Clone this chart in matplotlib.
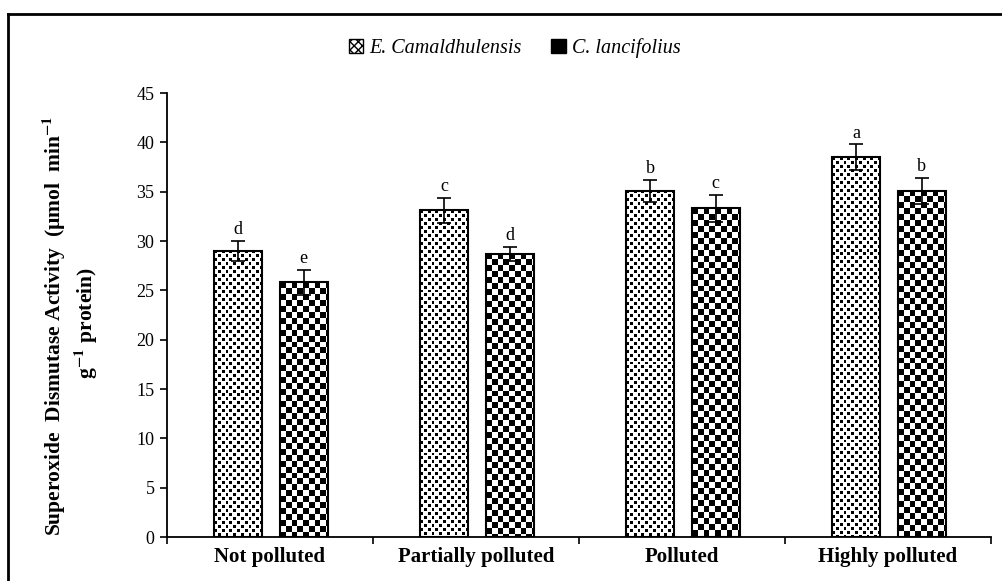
import numpy as np
import matplotlib
matplotlib.use("Agg")
import matplotlib.pyplot as plt
from matplotlib.patches import Patch
from matplotlib.lines import Line2D

# ---- data ----
categories = ["Not polluted", "Partially polluted", "Polluted", "Highly polluted"]
series_names = ["E. Camaldhulensis", "C. lancifolius"]
e_values = [29.0, 33.1, 35.1, 38.5]
c_values = [25.8, 28.7, 33.3, 35.1]
e_err = [1.0, 1.3, 1.1, 1.3]
c_err = [1.3, 0.7, 1.4, 1.3]
e_letters = ["d", "c", "b", "a"]
c_letters = ["e", "d", "c", "b"]
yticks = [0, 5, 10, 15, 20, 25, 30, 35, 40, 45]

plt.rcParams["font.family"] = ["Liberation Serif", "DejaVu Serif"]
plt.rcParams["mathtext.fontset"] = "stix"

W, H = 1003, 581
fig = plt.figure(figsize=(W / 100, H / 100), dpi=100)
ax = fig.add_axes([167 / W, (H - 537) / H, 824 / W, 444 / H])

x = np.arange(len(categories))
bw = 0.233
off_e, off_c = -0.155, 0.163

ax.set_xlim(-0.5, len(categories) - 0.5)
ax.set_ylim(0, 45)

bars_e = ax.bar(x + off_e, e_values, bw, facecolor="none", edgecolor="black", linewidth=1.5, zorder=3)
bars_c = ax.bar(x + off_c, c_values, bw, facecolor="none", edgecolor="black", linewidth=1.5, zorder=3)


def dot_tile():
    t = np.ones((8, 8))
    t[0:3, 0:3] = 0
    t[4:7, 4:7] = 0
    return t


def checker_tile():
    t = np.ones((12, 12))
    t[0:6, 0:6] = 0
    t[6:12, 6:12] = 0
    return t


def fill_pattern(bars, tile):
    for b in bars:
        x0, y0 = b.get_x(), b.get_y()
        x1, y1 = x0 + b.get_width(), y0 + b.get_height()
        p0 = ax.transData.transform((x0, y0))
        p1 = ax.transData.transform((x1, y1))
        wpx = int(round(abs(p1[0] - p0[0]))) + 2
        hpx = int(round(abs(p1[1] - p0[1]))) + 2
        th, tw = tile.shape
        img = np.tile(tile, (hpx // th + 2, wpx // tw + 2))[:hpx, :wpx]
        im = ax.imshow(img, cmap="gray", vmin=0, vmax=1, extent=(x0, x1, y0, y1),
                       origin="upper", interpolation="nearest", aspect="auto", zorder=2)
        im.set_clip_path(b)


fill_pattern(bars_e, dot_tile())
fill_pattern(bars_c, checker_tile())

ax.errorbar(x + off_e, e_values, yerr=e_err, fmt="none", ecolor="black", elinewidth=1.2,
            capsize=5, capthick=1.2, zorder=4)
ax.errorbar(x + off_c, c_values, yerr=c_err, fmt="none", ecolor="black", elinewidth=1.2,
            capsize=5, capthick=1.2, zorder=4)

for xi, v, er, lab in zip(x + off_e, e_values, e_err, e_letters):
    ax.annotate(lab, (xi, v + er), xytext=(0, 2), textcoords="offset points",
                ha="center", va="bottom", fontsize=13)
for xi, v, er, lab in zip(x + off_c, c_values, c_err, c_letters):
    ax.annotate(lab, (xi, v + er), xytext=(0, 2), textcoords="offset points",
                ha="center", va="bottom", fontsize=13)

ax.set_xlim(-0.5, len(categories) - 0.5)
ax.set_ylim(0, 45)

ax.spines["top"].set_visible(False)
ax.spines["right"].set_visible(False)
ax.spines["left"].set_linewidth(1.3)
ax.spines["bottom"].set_linewidth(1.3)

ax.set_yticks(yticks)
ax.set_yticklabels([str(t) for t in yticks], fontsize=13)
ax.tick_params(axis="y", direction="out", length=5, width=1.2, pad=4)

ax.set_xticks(np.arange(len(categories) + 1) - 0.5)
ax.set_xticklabels([])
ax.tick_params(axis="x", which="major", direction="out", length=5, width=1.2)
ax.set_xticks(x, minor=True)
ax.set_xticklabels(categories, minor=True, fontsize=15, fontweight="bold")
ax.tick_params(axis="x", which="minor", length=0, pad=7)

fig.text(70 / W, 1 - 326 / H,
         "Superoxide  Dismutase Activity  (µmol  min$^{\\mathbf{-1}}$\n g$^{\\mathbf{-1}}$ protein)",
         rotation=90, ha="center", va="center", ma="center", fontsize=15.5, fontweight="bold",
         linespacing=1.15)

handles = [Patch(facecolor="white", edgecolor="black", hatch="xxxx"),
           Patch(facecolor="black", edgecolor="black", hatch="")]
fig.legend(handles, series_names, loc="center", bbox_to_anchor=(0.513, 1 - 48 / H), ncol=2,
           frameon=False, prop={"family": "Liberation Serif", "style": "italic", "size": 14.5},
           handlelength=0.7, handleheight=0.7, handletextpad=0.3, columnspacing=1.5)

# outer frame (top and left edges visible)
fig.add_artist(Line2D([8 / W, 8 / W], [0, 1 - 14 / H], transform=fig.transFigure,
                      color="black", linewidth=2))
fig.add_artist(Line2D([8 / W, 1], [1 - 14 / H, 1 - 14 / H], transform=fig.transFigure,
                      color="black", linewidth=2))

fig.savefig("out.png", dpi=100, facecolor="white")
